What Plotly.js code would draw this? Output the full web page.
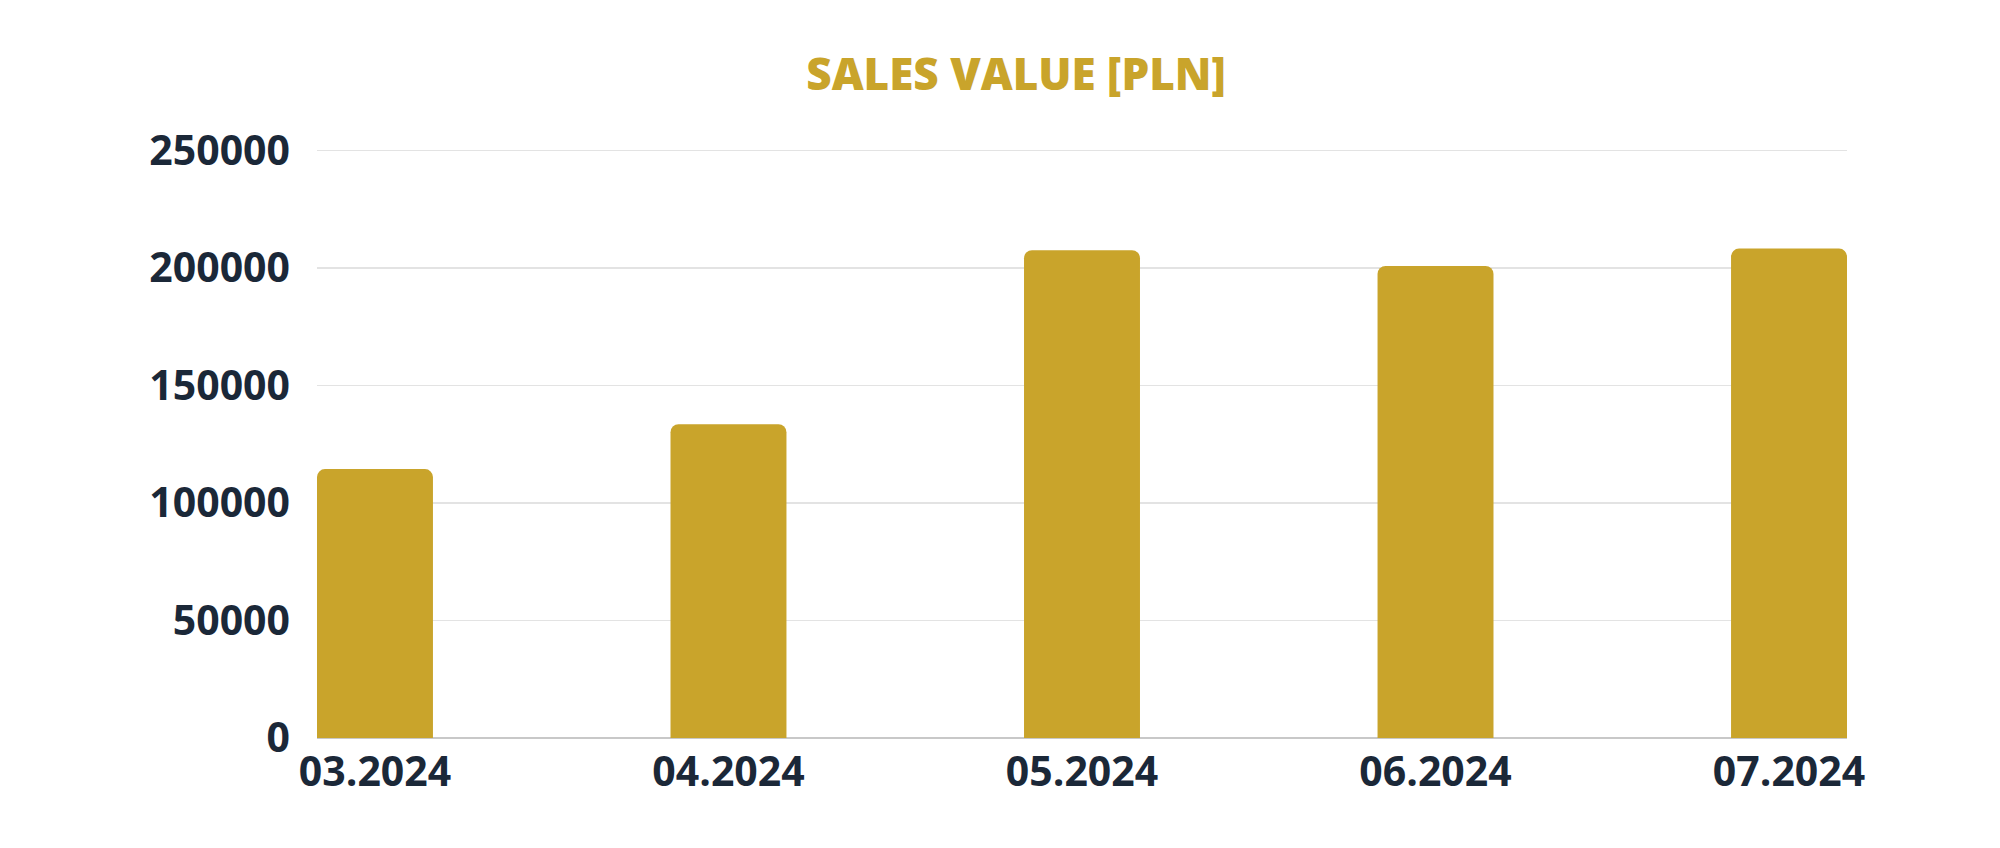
<!DOCTYPE html>
<html>
<head>
<meta charset="utf-8">
<script src="https://cdn.plot.ly/plotly-3.0.1.min.js"></script>
<style>
  html, body { margin: 0; padding: 0; background: #fff; }
  #chart { width: 2000px; height: 848px; }
</style>
</head>
<body>
<div id="chart"></div>
<script>
// months shown on the x axis
const months = ['03.2024', '04.2024', '05.2024', '06.2024', '07.2024'];
// sales value in PLN
const salesValues = [114400, 133500, 207500, 200800, 208200];
// y axis ticks
const yTicks = [0, 50000, 100000, 150000, 200000, 250000];

const GOLD = '#c9a42b';
const INK = '#1b2838';

const trace = {
    type: 'bar',
    x: months,
    y: salesValues,
    marker: { color: GOLD, line: { width: 0 } },
    hoverinfo: 'skip'
};

const tickFont = { family: 'Open Sans', size: 41, color: INK, weight: 700 };

// top of range a bit above 250000 so that the top gridline is drawn
const Y_MAX = 251000;
const plotBottom = 738, topTickPx = 150;
const plotH = (plotBottom - topTickPx) * Y_MAX / 250000;

const layout = {
    width: 2000,
    height: 848,
    paper_bgcolor: '#ffffff',
    plot_bgcolor: '#ffffff',
    margin: { l: 317, r: 153, t: 848 - 110 - plotH, b: 110 },
    title: {
        text: 'SALES VALUE [PLN]',
        font: { family: 'Open Sans', size: 44, color: GOLD, weight: 800 },
        xref: 'container',
        yref: 'container',
        x: 0.508,
        xanchor: 'center',
        y: 1 - 75 / 848,
        yanchor: 'middle'
    },
    bargap: 0.672,
    barcornerradius: 8,
    showlegend: false,
    xaxis: {
        type: 'category',
        range: [-0.164, 4.164],
        showgrid: false,
        showline: false,
        zeroline: false,
        ticks: '',
        tickfont: tickFont,
        ticklabelstandoff: 6
    },
    yaxis: {
        range: [0, Y_MAX],
        tickvals: yTicks,
        ticktext: yTicks.map(String),
        showgrid: true,
        gridcolor: '#e3e3e3',
        gridwidth: 1.5,
        zeroline: true,
        zerolinecolor: '#c8c8c8',
        zerolinewidth: 1.5,
        showline: false,
        ticks: '',
        tickfont: tickFont,
        ticklabelstandoff: 26
    }
};

Plotly.newPlot('chart', [trace], layout, { displayModeBar: false, staticPlot: true });
</script>
</body>
</html>
